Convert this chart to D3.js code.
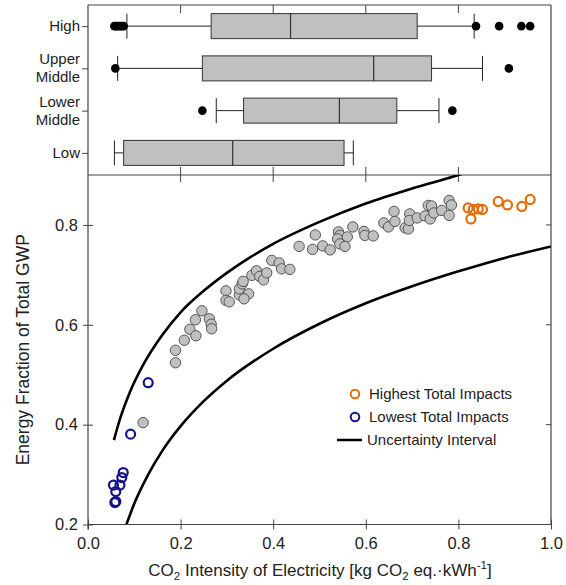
<!DOCTYPE html>
<html><head><meta charset="utf-8">
<script src="https://cdn.jsdelivr.net/npm/d3@7"></script>
<style>body{margin:0;background:#fff}svg{display:block;font-family:"Liberation Sans",Arial,sans-serif}</style>
</head><body><svg id="c" width="566" height="585"></svg>
<script>
// ---- box plot data (top panel) ----
const boxCategories = ["High","Upper Middle","Lower Middle","Low"];
const boxWhiskerLow  = [0.084, 0.064, 0.277, 0.057];
const boxQ1          = [0.266, 0.247, 0.336, 0.077];
const boxMedian      = [0.4375, 0.617, 0.543, 0.3125];
const boxQ3          = [0.711, 0.742, 0.667, 0.553];
const boxWhiskerHigh = [0.834, 0.852, 0.758, 0.573];
const outliersHigh        = [0.057, 0.061, 0.065, 0.069, 0.073, 0.077, 0.838, 0.888, 0.936, 0.955];
const outliersUpperMiddle = [0.059, 0.909];
const outliersLowerMiddle = [0.247, 0.787];
const outliersLow         = [];

// ---- scatter data (bottom panel) ----
const grayX = [0.189,0.189,0.208,0.220,0.233,0.232,0.246,0.262,0.266,0.267,0.298,0.298,0.305,0.327,0.327,0.333,0.335,0.347,0.337,0.354,0.364,0.371,0.379,0.386,0.397,0.413,0.418,0.436,
  0.456,0.485,0.491,0.507,0.523,0.541,0.544,0.539,0.560,0.544,0.555,0.572,0.596,0.598,0.616,0.639,0.649,
  0.661,0.663,0.685,0.692,0.695,0.694,0.711,0.728,0.735,0.739,0.742,0.747,0.764,0.780,0.780,0.785,0.119];
const grayY = [0.524,0.549,0.569,0.591,0.578,0.610,0.628,0.612,0.601,0.592,0.668,0.649,0.646,0.660,0.672,0.682,0.687,0.662,0.652,0.699,0.708,0.697,0.690,0.704,0.729,0.724,0.712,0.711,
  0.757,0.751,0.780,0.758,0.750,0.786,0.779,0.772,0.776,0.762,0.757,0.796,0.787,0.779,0.778,0.804,0.796,
  0.827,0.807,0.794,0.792,0.822,0.809,0.814,0.818,0.839,0.812,0.838,0.824,0.829,0.819,0.849,0.840,0.404];
const highestX = [0.821,0.832,0.843,0.852,0.827,0.886,0.906,0.937,0.955];
const highestY = [0.834,0.831,0.832,0.831,0.812,0.847,0.840,0.837,0.851];
const lowestX = [0.130,0.092,0.076,0.073,0.069,0.055,0.060,0.060,0.058];
const lowestY = [0.484,0.381,0.304,0.294,0.279,0.279,0.266,0.246,0.244];
const upperCurveX = [0.056,0.070,0.090,0.120,0.160,0.200,0.250,0.300,0.350,0.400,0.500,0.600,0.700,0.800,0.810];
const upperCurveY = [0.369,0.414,0.464,0.521,0.579,0.625,0.668,0.704,0.735,0.762,0.806,0.843,0.873,0.900,0.903];
const lowerCurveX = [0.083,0.100,0.130,0.160,0.200,0.250,0.300,0.400,0.500,0.600,0.700,0.800,0.900,1.000];
const lowerCurveY = [0.200,0.242,0.300,0.347,0.397,0.447,0.488,0.552,0.602,0.643,0.677,0.707,0.734,0.757];
const xTicks = [0.0,0.2,0.4,0.6,0.8,1.0];
const yTicks = [0.2,0.4,0.6,0.8];
const legendLabels = ["Highest Total Impacts","Lowest Total Impacts","Uncertainty Interval"];

const svg = d3.select("#c");
const L = 88, R = 551, T = 5, MID = 175, B = 524.5;
const AX = "#444";
const x = d3.scaleLinear().domain([0,1]).range([L,R]);
const y = d3.scaleLinear().domain([0.2,0.9]).range([B,MID]);
const yc = d3.scalePoint().domain(boxCategories).range([T,MID-1]).padding(0.5);

// ---------- top panel ----------
const topG = svg.append("g");
const BH = 25;
const outs = [outliersHigh, outliersUpperMiddle, outliersLowerMiddle, outliersLow];
boxCategories.forEach((c,i)=>{
  const cy = yc(c);
  const g = topG.append("g");
  g.append("line").attr("x1",x(boxWhiskerLow[i])).attr("x2",x(boxQ1[i])).attr("y1",cy).attr("y2",cy).attr("stroke","#222").attr("stroke-width",1);
  g.append("line").attr("x1",x(boxQ3[i])).attr("x2",x(boxWhiskerHigh[i])).attr("y1",cy).attr("y2",cy).attr("stroke","#222").attr("stroke-width",1);
  [boxWhiskerLow[i], boxWhiskerHigh[i]].forEach(v=>g.append("line").attr("x1",x(v)).attr("x2",x(v)).attr("y1",cy-BH/2).attr("y2",cy+BH/2).attr("stroke","#222").attr("stroke-width",1));
  g.append("rect").attr("x",x(boxQ1[i])).attr("y",cy-BH/2).attr("width",x(boxQ3[i])-x(boxQ1[i])).attr("height",BH).attr("fill","#c0c0c0").attr("stroke","#333").attr("stroke-width",1);
  g.append("line").attr("x1",x(boxMedian[i])).attr("x2",x(boxMedian[i])).attr("y1",cy-BH/2).attr("y2",cy+BH/2).attr("stroke","#333").attr("stroke-width",1.2);
  g.selectAll("circle").data(outs[i]).join("circle").attr("cx",d=>x(d)).attr("cy",cy).attr("r",4.3).attr("fill","#000");
});
// frame top panel
topG.append("line").attr("x1",L).attr("x2",R).attr("y1",T).attr("y2",T).attr("stroke",AX).attr("stroke-width",1.2);
topG.append("line").attr("x1",R).attr("x2",R).attr("y1",T).attr("y2",MID).attr("stroke",AX).attr("stroke-width",1.2);
topG.append("line").attr("x1",L).attr("x2",L).attr("y1",T).attr("y2",B+5).attr("stroke",AX).attr("stroke-width",1.2);
topG.append("line").attr("x1",L).attr("x2",R).attr("y1",MID).attr("y2",MID).attr("stroke",AX).attr("stroke-width",1.2);
[0.2,0.4,0.6,0.8].forEach(v=>{
  topG.append("line").attr("x1",x(v)).attr("x2",x(v)).attr("y1",T).attr("y2",T+8).attr("stroke",AX);
  topG.append("line").attr("x1",x(v)).attr("x2",x(v)).attr("y1",MID-8).attr("y2",MID+7).attr("stroke",AX);
});
// category axis
const catAxis = topG.append("g").attr("transform",`translate(${L},0)`).call(d3.axisLeft(yc).tickSize(6).tickFormat(""));
catAxis.select(".domain").remove();
catAxis.selectAll("line").attr("stroke",AX);
boxCategories.forEach(c=>{
  const parts = c.split(" ");
  const t = topG.append("text").attr("x",L-8).attr("text-anchor","end").attr("font-size",15).attr("fill","#222");
  if(parts.length===1){ t.attr("y",yc(c)+5).text(c); }
  else {
    t.append("tspan").attr("x",L-8).attr("y",yc(c)-4).text(parts[0]);
    t.append("tspan").attr("x",L-8).attr("y",yc(c)+14).text(parts[1]);
  }
});

// ---------- bottom panel ----------
const bot = svg.append("g");
svg.append("clipPath").attr("id","clip").append("rect").attr("x",L).attr("y",MID).attr("width",R-L).attr("height",B-MID);
const line = d3.line().x(d=>x(d[0])).y(d=>y(d[1])).curve(d3.curveMonotoneX);
bot.append("path").datum(upperCurveX.map((v,i)=>[v,upperCurveY[i]])).attr("d",line).attr("clip-path","url(#clip)").attr("fill","none").attr("stroke","#000").attr("stroke-width",2.6);
bot.append("path").datum(lowerCurveX.map((v,i)=>[v,lowerCurveY[i]])).attr("d",line).attr("clip-path","url(#clip)").attr("fill","none").attr("stroke","#000").attr("stroke-width",2.6);

bot.selectAll("circle.g").data(grayX.map((v,i)=>[v,grayY[i]])).join("circle").attr("class","g")
  .attr("cx",d=>x(d[0])).attr("cy",d=>y(d[1])).attr("r",5.2).attr("fill","#c0c0c0").attr("stroke","#555").attr("stroke-width",1);
bot.selectAll("circle.h").data(highestX.map((v,i)=>[v,highestY[i]])).join("circle").attr("class","h")
  .attr("cx",d=>x(d[0])).attr("cy",d=>y(d[1])).attr("r",4.5).attr("fill","none").attr("stroke","#e26d0a").attr("stroke-width",2.2);
bot.selectAll("circle.l").data(lowestX.map((v,i)=>[v,lowestY[i]])).join("circle").attr("class","l")
  .attr("cx",d=>x(d[0])).attr("cy",d=>y(d[1])).attr("r",4.5).attr("fill","none").attr("stroke","#14148a").attr("stroke-width",2.2);

// frame bottom
bot.append("line").attr("x1",R).attr("x2",R).attr("y1",MID).attr("y2",B).attr("stroke",AX).attr("stroke-width",1.2);
[0.4,0.6,0.8].forEach(v=>bot.append("line").attr("x1",R-5).attr("x2",R).attr("y1",y(v)).attr("y2",y(v)).attr("stroke",AX));
const xa = bot.append("g").attr("transform",`translate(0,${B})`).call(d3.axisBottom(x).tickValues(xTicks).tickSize(5).tickFormat(d3.format(".1f")));
xa.select(".domain").attr("stroke",AX).attr("stroke-width",1.2).attr("d",`M${L},0H${R}`);
xa.selectAll(".tick line").attr("stroke",AX).attr("y1",-5).attr("y2",5);
xa.selectAll("text").attr("font-size",16.5).attr("fill","#222").attr("y",13).attr("font-family","Liberation Sans, Arial, sans-serif");
const ya = bot.append("g").attr("transform",`translate(${L},0)`).call(d3.axisLeft(y).tickValues(yTicks).tickSize(5).tickFormat(d3.format(".1f")));
ya.select(".domain").remove();
ya.selectAll(".tick line").attr("stroke",AX).attr("x1",5).attr("x2",-5);
ya.selectAll("text").attr("font-size",16.5).attr("fill","#222").attr("x",-10).attr("font-family","Liberation Sans, Arial, sans-serif");

// axis titles
const xt = svg.append("text").attr("x",320).attr("y",576).attr("text-anchor","middle").attr("font-size",17).attr("fill","#222");
xt.append("tspan").text("CO");
xt.append("tspan").attr("font-size",11.5).attr("dy",4).text("2");
xt.append("tspan").attr("dy",-4).text(" Intensity of Electricity [kg CO");
xt.append("tspan").attr("font-size",11.5).attr("dy",4).text("2");
xt.append("tspan").attr("dy",-4).text(" eq.·kWh");
xt.append("tspan").attr("font-size",11.5).attr("dy",-7).text("-1");
xt.append("tspan").attr("dy",7).text("]");
svg.append("text").attr("transform",`translate(29,${(MID+B)/2}) rotate(-90)`).attr("text-anchor","middle").attr("font-size",17.5).attr("fill","#222").text("Energy Fraction of Total GWP");

// legend
const lg = svg.append("g").attr("font-size",15).attr("fill","#222");
const lx = 355, ly0 = 394, ldy = 23;
lg.append("circle").attr("cx",lx).attr("cy",ly0).attr("r",4.3).attr("fill","none").attr("stroke","#e26d0a").attr("stroke-width",2);
lg.append("circle").attr("cx",lx).attr("cy",ly0+ldy).attr("r",4.3).attr("fill","none").attr("stroke","#14148a").attr("stroke-width",2);
lg.append("line").attr("x1",337).attr("x2",362).attr("y1",ly0+2*ldy).attr("y2",ly0+2*ldy).attr("stroke","#000").attr("stroke-width",2.5);
legendLabels.forEach((t,i)=>lg.append("text").attr("x",i<2?369:367).attr("y",ly0+i*ldy+5).text(t));
</script></body></html>
